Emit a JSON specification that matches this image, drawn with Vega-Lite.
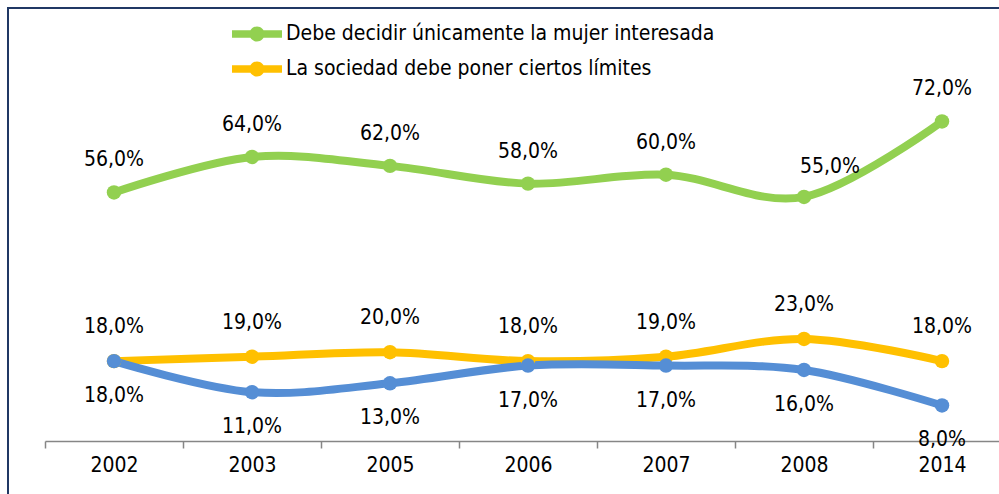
{
  "$schema": "https://vega.github.io/schema/vega-lite/v6.json",
  "width": 1040,
  "height": 500,
  "padding": {"left": 8, "top": 8, "right": 0, "bottom": 0},
  "autosize": {"type": "none"},
  "background": "white",
  "config": {
    "view": {"stroke": "#203864", "strokeWidth": 2},
    "font": "DejaVu Sans Condensed, Liberation Sans, sans-serif",
    "locale": {"number": {"decimal": ",", "thousands": ".", "grouping": [3], "currency": ["", " €"]}}
  },
  "data": {
    "values": [
      {"year": "2002", "series": "Debe decidir únicamente la mujer interesada", "value": 0.56},
      {"year": "2003", "series": "Debe decidir únicamente la mujer interesada", "value": 0.64},
      {"year": "2005", "series": "Debe decidir únicamente la mujer interesada", "value": 0.62},
      {"year": "2006", "series": "Debe decidir únicamente la mujer interesada", "value": 0.58},
      {"year": "2007", "series": "Debe decidir únicamente la mujer interesada", "value": 0.60},
      {"year": "2008", "series": "Debe decidir únicamente la mujer interesada", "value": 0.55},
      {"year": "2014", "series": "Debe decidir únicamente la mujer interesada", "value": 0.72},
      {"year": "2002", "series": "La sociedad debe poner ciertos límites", "value": 0.18},
      {"year": "2003", "series": "La sociedad debe poner ciertos límites", "value": 0.19},
      {"year": "2005", "series": "La sociedad debe poner ciertos límites", "value": 0.20},
      {"year": "2006", "series": "La sociedad debe poner ciertos límites", "value": 0.18},
      {"year": "2007", "series": "La sociedad debe poner ciertos límites", "value": 0.19},
      {"year": "2008", "series": "La sociedad debe poner ciertos límites", "value": 0.23},
      {"year": "2014", "series": "La sociedad debe poner ciertos límites", "value": 0.18},
      {"year": "2002", "series": "No sabe / No contesta", "value": 0.18},
      {"year": "2003", "series": "No sabe / No contesta", "value": 0.11},
      {"year": "2005", "series": "No sabe / No contesta", "value": 0.13},
      {"year": "2006", "series": "No sabe / No contesta", "value": 0.17},
      {"year": "2007", "series": "No sabe / No contesta", "value": 0.17},
      {"year": "2008", "series": "No sabe / No contesta", "value": 0.16},
      {"year": "2014", "series": "No sabe / No contesta", "value": 0.08}
    ]
  },
  "encoding": {
    "x": {
      "field": "year", "type": "nominal", "sort": null,
      "scale": {"type": "band", "range": [37, 1003], "paddingInner": 0, "paddingOuter": 0},
      "axis": {
        "title": null, "labelAngle": 0, "grid": false, "tickBand": "extent",
        "offset": -67, "domainColor": "#868686", "domainWidth": 1.5,
        "tickColor": "#868686", "tickWidth": 1.5, "tickSize": 7,
        "labelFontSize": 21, "labelColor": "black", "labelPadding": 6
      }
    },
    "y": {
      "field": "value", "type": "quantitative",
      "scale": {"domain": [-0.15099, 0.97577], "nice": false, "zero": false},
      "axis": null
    },
    "color": {
      "field": "series", "type": "nominal",
      "scale": {
        "domain": ["Debe decidir únicamente la mujer interesada", "La sociedad debe poner ciertos límites", "No sabe / No contesta"],
        "range": ["#92d050", "#ffc000", "#558ed5"]
      },
      "legend": {
        "orient": "none", "legendX": 224, "legendY": 1, "title": null,
        "values": ["Debe decidir únicamente la mujer interesada", "La sociedad debe poner ciertos límites"],
        "symbolType": "M-1,-0.15L1,-0.15L1,0.15L-1,0.15Z M0.3,0A0.3,0.3 0 1 1 -0.3,0A0.3,0.3 0 1 1 0.3,0Z",
        "symbolSize": 2500, "symbolStrokeWidth": 0, "symbolOpacity": 1,
        "labelFontSize": 21, "labelColor": "black", "labelOffset": 4, "rowPadding": 0,
        "labelLimit": 600,
        "encode": {"symbols": {"update": {"fill": {"scale": "color", "field": "value"}, "stroke": {"value": "transparent"}, "strokeWidth": {"value": 0}, "opacity": {"value": 1}}}}
      }
    }
  },
  "layer": [
    {"mark": {"type": "line", "interpolate": "cardinal", "strokeWidth": 8, "strokeCap": "round"}},
    {"mark": {"type": "point", "filled": true, "size": 210, "opacity": 1}},
    {
      "transform": [{"filter": "datum.series == 'Debe decidir únicamente la mujer interesada' && datum.year != '2008'"}],
      "mark": {"type": "text", "dy": -32, "fontSize": 21},
      "encoding": {"text": {"field": "value", "type": "quantitative", "format": ".1%"}, "color": {"value": "black"}}
    },
    {
      "transform": [{"filter": "datum.series == 'Debe decidir únicamente la mujer interesada' && datum.year == '2008'"}],
      "mark": {"type": "text", "dy": -30, "dx": 26, "fontSize": 21},
      "encoding": {"text": {"field": "value", "type": "quantitative", "format": ".1%"}, "color": {"value": "black"}}
    },
    {
      "transform": [{"filter": "datum.series == 'La sociedad debe poner ciertos límites'"}],
      "mark": {"type": "text", "dy": -34, "fontSize": 21},
      "encoding": {"text": {"field": "value", "type": "quantitative", "format": ".1%"}, "color": {"value": "black"}}
    },
    {
      "transform": [{"filter": "datum.series == 'No sabe / No contesta'"}],
      "mark": {"type": "text", "dy": 35, "fontSize": 21},
      "encoding": {"text": {"field": "value", "type": "quantitative", "format": ".1%"}, "color": {"value": "black"}}
    }
  ]
}
